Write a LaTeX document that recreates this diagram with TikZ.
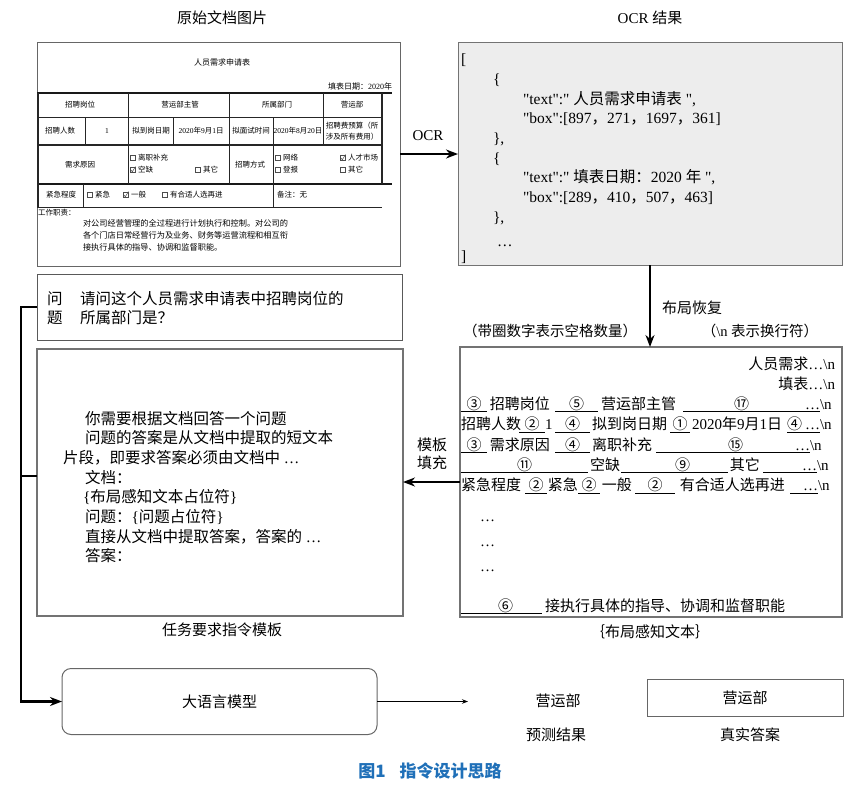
\documentclass[tikz,border=0pt]{standalone}
\usepackage{fontspec}
\setmainfont{Liberation Serif}[Ligatures=TeXOff]
\newfontfamily\cjk{Noto Sans CJK SC}
\usetikzlibrary{arrows.meta}
\makeatletter
\ifdefined\newXeTeXintercharclass
  \newXeTeXintercharclass\CJKcls
\else
  \chardef\CJKcls=9
\fi
\def\setclassrange#1#2#3{\count@=#1\relax
  \loop\XeTeXcharclass\count@=#3\relax
  \ifnum\count@<#2\advance\count@\@ne\repeat}
\setclassrange{"0021}{"007E}{0}
\setclassrange{"00A0}{"024F}{0}
\setclassrange{"2000}{"206F}{0}
\setclassrange{"2460}{"24FF}{\CJKcls}
\setclassrange{"3000}{"303F}{\CJKcls}
\setclassrange{"4E00}{"9FFF}{\CJKcls}
\setclassrange{"FF00}{"FFEF}{\CJKcls}
\makeatother
\XeTeXinterchartokenstate=1
\XeTeXinterchartoks 0 \CJKcls = {\cjk}
\XeTeXinterchartoks 4095 \CJKcls = {\cjk}
\XeTeXinterchartoks \CJKcls 0 = {\rmfamily}
\XeTeXinterchartoks \CJKcls 4095 = {\rmfamily}
\definecolor{capblue}{RGB}{32,112,184}
\newcommand\fs[2]{\fontsize{#1}{#2}\selectfont}
\newcommand\ub[2]{\leavevmode\rlap{\rule[-2.5pt]{#1pt}{0.8pt}}\hbox to #1pt{#2}}
\newcommand\tb[2]{\hbox to #1pt{#2\hss}}
\tikzset{
  every node/.style={inner sep=0pt, outer sep=0pt},
  boxst/.style={draw=black!55, line width=1pt, anchor=north west},
  fline/.style={draw=black!85, line width=0.7pt},
  fthick/.style={draw=black!90, line width=2.2pt},
  cbox/.style={draw=black!70, line width=0.5pt},
  ftext/.style={font=\fs{7.5}{10.5}},
  fwork/.style={font=\fs{8.2}{10}, anchor=west},
  ttext/.style={font=\fs{15}{18}},
  jtext/.style={font=\fs{15.5}{19}, anchor=base west},
  itext/.style={font=\fs{15.5}{19}, anchor=base west},
  ltext/.style={font=\fs{15}{18}, anchor=base west},
  barrow/.style={line width=2pt, -{Stealth[length=12pt,width=9pt]}},
  conn/.style={line width=2.2pt},
  sarrow/.style={line width=0.8pt, -{Stealth[length=6pt,width=4.5pt]}},
}
\begin{document}
\begin{tikzpicture}[x=1pt,y=-1pt]
\useasboundingbox (0,0) rectangle (862,795);
% titles
\node[ttext] (tform) at (222,18) {原始文档图片};
\node[ttext] (tocr) at (650,18) {OCR 结果};
% ---------- form image ----------
\node[boxst, draw=black!60, line width=0.8pt, minimum width=363, minimum height=224] (form) at (37,42) {};
\node[ftext, font=\fs{8}{10}] (ftitle) at (222,62) {人员需求申请表};
\node[ftext, font=\fs{8}{10}, anchor=east] (fdate) at (392,86) {填表日期：2020年};
\draw[fthick] (37,93) -- (392,93);
\draw[fthick] (37,184) -- (392,184);
\draw[fline, line width=1.4pt] (37,145) -- (382,145);
\draw[fline] (37,117) -- (382,117);
\draw[fline] (37,207) -- (382,207);
\draw[fline, line width=1.4pt] (38,93) -- (38,207);
\draw[fline] (128,93) -- (128,184);
\draw[fline] (229,93) -- (229,184);
\draw[fline] (323,93) -- (323,145);
\draw[fline, line width=1.4pt] (382,93) -- (382,184);
\draw[fline] (85,117) -- (85,145);
\draw[fline] (173,117) -- (173,145);
\draw[fline] (273,117) -- (273,207);
\draw[fline] (83,184) -- (83,207);
\node[ftext] (f1) at (80,105) {招聘岗位};
\node[ftext] (f2) at (180,105) {营运部主管};
\node[ftext] (f3) at (277,105) {所属部门};
\node[ftext] (f4) at (352,105) {营运部};
\node[ftext] (f5) at (60,131) {招聘人数};
\node[ftext] (f6) at (107,131) {1};
\node[ftext] (f7) at (151,131) {拟到岗日期};
\node[ftext] (f8) at (201,131) {2020年9月1日};
\node[ftext] (f9) at (251,131) {拟面试时间};
\node[ftext] (f10) at (298,131) {2020年8月20日};
\node[ftext, align=center] (f11) at (352,131) {招聘费预算（所\\涉及所有费用）};
\node[ftext] (f12) at (80,165) {需求原因};
\node[ftext, anchor=west] (f13) at (138,158) {离职补充};
\node[ftext, anchor=west] (f14) at (138,170) {空缺};
\node[ftext, anchor=west] (f15) at (203,170) {其它};
\node[ftext] (f16) at (250,165) {招聘方式};
\node[ftext, anchor=west] (f17) at (283,158) {网络};
\node[ftext, anchor=west] (f18) at (348,158) {人才市场};
\node[ftext, anchor=west] (f19) at (283,170) {登报};
\node[ftext, anchor=west] (f20) at (348,170) {其它};
\node[ftext] (f21) at (61,195) {紧急程度};
\node[ftext, anchor=west] (f22) at (95,195) {紧急};
\node[ftext, anchor=west] (f23) at (131,195) {一般};
\node[ftext, anchor=west] (f24) at (170,195) {有合适人选再进};
\node[ftext, anchor=west] (f25) at (277,195) {备注：无};
\node[ftext, anchor=west] (f26) at (38,213) {工作职责：};
\node[fwork] (f27) at (83,223) {对公司经营管理的全过程进行计划执行和控制。对公司的};
\node[fwork] (f28) at (83,235.5) {各个门店日常经营行为及业务、财务等运营流程和相互衔};
\node[fwork] (f29) at (83,247.5) {接执行具体的指导、协调和监督职能。};
\foreach \x/\y in {130/158,195/170,275/158,275/170,340/170,87/195,162/195}
  \draw[cbox] (\x,\y-2.5) rectangle ++(5,5);
\foreach \x/\y in {130/170,340/158,123/195}
  {\draw[cbox] (\x,\y-2.5) rectangle ++(5,5);
   \draw[cbox] (\x+1,\y) -- (\x+2.3,\y+1.8) -- (\x+5.5,\y-3.5);}
% ---------- OCR result ----------
\node[boxst, fill=black!7, minimum width=384, minimum height=223] (ocr) at (458,42) {};
\node[jtext] (j1) at (461,64) {[};
\node[jtext] (j2) at (493,84) {\{};
\node[jtext] (j3) at (523,104) {"text":" 人员需求申请表 ",};
\node[jtext] (j4) at (523,123) {"box":[897，271，1697，361]};
\node[jtext] (j5) at (493,143) {\},};
\node[jtext] (j6) at (493,163) {\{};
\node[jtext] (j7) at (523,182) {"text":" 填表日期：2020 年 ",};
\node[jtext] (j8) at (523,202) {"box":[289，410，507，463]};
\node[jtext] (j9) at (493,222) {\},};
\node[jtext] (j10) at (497,246) {\dots};
\node[jtext] (j11) at (461,261) {]};
\draw[barrow] (form.east) -- (form.east -| ocr.west);
\node[ttext] (ocrlab) at (428,136) {OCR};
% ---------- question ----------
\node[boxst, draw=black!65, minimum width=365, minimum height=66] (q) at (37,274) {};
\node[itext] (qa) at (47,304) {问};
\node[itext] (qb) at (47,323) {题};
\node[itext] (qc) at (80,304) {请问这个人员需求申请表中招聘岗位的};
\node[itext] (qd) at (80,323) {所属部门是？};
% ---------- instruction template ----------
\node[boxst, line width=1.3pt, minimum width=366, minimum height=267] (instr) at (37,349) {};
\node[itext] (i1) at (85,424) {你需要根据文档回答一个问题};
\node[itext] (i2) at (85,443.7) {问题的答案是从文档中提取的短文本};
\node[itext] (i3) at (63,463.4) {片段，即要求答案必须由文档中 \dots};
\node[itext] (i4) at (85,483.1) {文档：};
\node[itext] (i5) at (83,502.8) {\{布局感知文本占位符\}};
\node[itext] (i6) at (85,522.5) {问题：\{问题占位符\}};
\node[itext] (i7) at (85,542.2) {直接从文档中提取答案，答案的 \dots};
\node[itext] (i8) at (85,561.9) {答案：};
\node[ttext] (instrl) at (222,630) {任务要求指令模板};
% ---------- layout-aware text ----------
\node[boxst, line width=1.3pt, minimum width=382, minimum height=270] (lay) at (460,347) {};
\draw[barrow] (ocr.south) -- (ocr.south |- lay.north);
\node[ttext] (bjhf) at (692,308) {布局恢复};
\node[ttext, font=\fs{14.5}{18}] (note1) at (550,331) {（带圈数字表示空格数量）};
\node[ttext, font=\fs{14.5}{18}] (note2) at (760,331) {（\textbackslash n 表示换行符）};
\node[ltext, anchor=base east] (l1) at (835,369) {人员需求\dots\textbackslash n};
\node[ltext, anchor=base east] (l2) at (835,389.3) {填表\dots\textbackslash n};
\node[ltext] (l3) at (461,409.6) {\ub{26}{\hss③\hss}\tb{68}{\hskip3pt 招聘岗位}\ub{43}{\hss⑤\hss}\tb{85}{\hskip3pt 营运部主管}\ub{117}{\hss⑰\hss}\ub{20}{\hss\dots}\textbackslash n};
\node[ltext] (l4) at (461,429.9) {\tb{58}{招聘人数}\ub{26}{\hss②\hss}\tb{10}{1}\ub{35}{\hss④\hss}\tb{80}{\hskip2pt 拟到岗日期}\ub{20}{\hss①\hss}\tb{97}{\hskip2pt 2020年9月1日}\ub{33}{④\hss\dots}\textbackslash n};
\node[ltext] (l5) at (461,450.2) {\ub{26}{\hss③\hss}\tb{68}{\hskip3pt 需求原因}\ub{35}{\hss④\hss}\tb{66}{\hskip2pt 离职补充}\ub{154}{\hskip72pt ⑮\hss\dots}\textbackslash n};
\node[ltext] (l6) at (461,470.5) {\ub{127}{\hss⑪\hss}\tb{33}{\hskip2pt 空缺}\ub{107}{\hskip54pt ⑨\hss}\tb{35}{\hskip2pt 其它}\ub{54}{\hss\dots}\textbackslash n};
\node[ltext] (l7) at (461,490.8) {\tb{64}{紧急程度}\ub{22}{\hss②\hss}\tb{31}{\hskip1pt 紧急}\ub{22}{\hss②\hss}\tb{35}{\hskip2pt 一般}\ub{40}{\hss②\hss}\tb{115}{\hskip5pt 有合适人选再进}\ub{28}{\hss\dots}\textbackslash n};
\node[ltext] (d1) at (480,521) {\dots};
\node[ltext] (d2) at (480,546) {\dots};
\node[ltext] (d3) at (480,571) {\dots};
\node[ltext] (l8) at (461,611) {\ub{81}{\hskip37pt ⑥\hss}\hskip3pt 接执行具体的指导、协调和监督职能};
\node[ttext] (layl) at (650,632) {｛布局感知文本｝};
\draw[barrow] (lay.west) -- (lay.west -| instr.east);
\node[ttext, align=center, font=\fs{15}{18.5}] (mbtc) at (432,454) {模板\\填充};
% ---------- LLM and results ----------
\node[draw=black!60, line width=1pt, rounded corners=9pt, minimum width=315, minimum height=66, ttext] (llm) at (219.5,701.5) {大语言模型};
\coordinate (trunk) at (21,0);
\coordinate (ib) at (37,476);
\draw[conn, -{Stealth[length=12pt,width=9pt]}] (q.west) -| (trunk |- llm.west) -- (llm.west);
\draw[conn] (ib) -- (ib -| trunk);
\coordinate (pend) at (468,0);
\draw[sarrow] (llm.east) -- (llm.east -| pend);
\node[ttext] (pred) at (558,701) {营运部};
\node[ttext] (predl) at (556,735) {预测结果};
\node[draw=black!60, line width=1pt, minimum width=196, minimum height=37, ttext] (gt) at (745,698) {营运部};
\node[ttext] (gtl) at (750,735) {真实答案};
\node[font=\fs{17}{20}, text=capblue] (cap) at (430,771) {\XeTeXinterchartokenstate=0 \cjk\bfseries 图1\hskip14pt 指令设计思路};
\end{tikzpicture}
\end{document}
